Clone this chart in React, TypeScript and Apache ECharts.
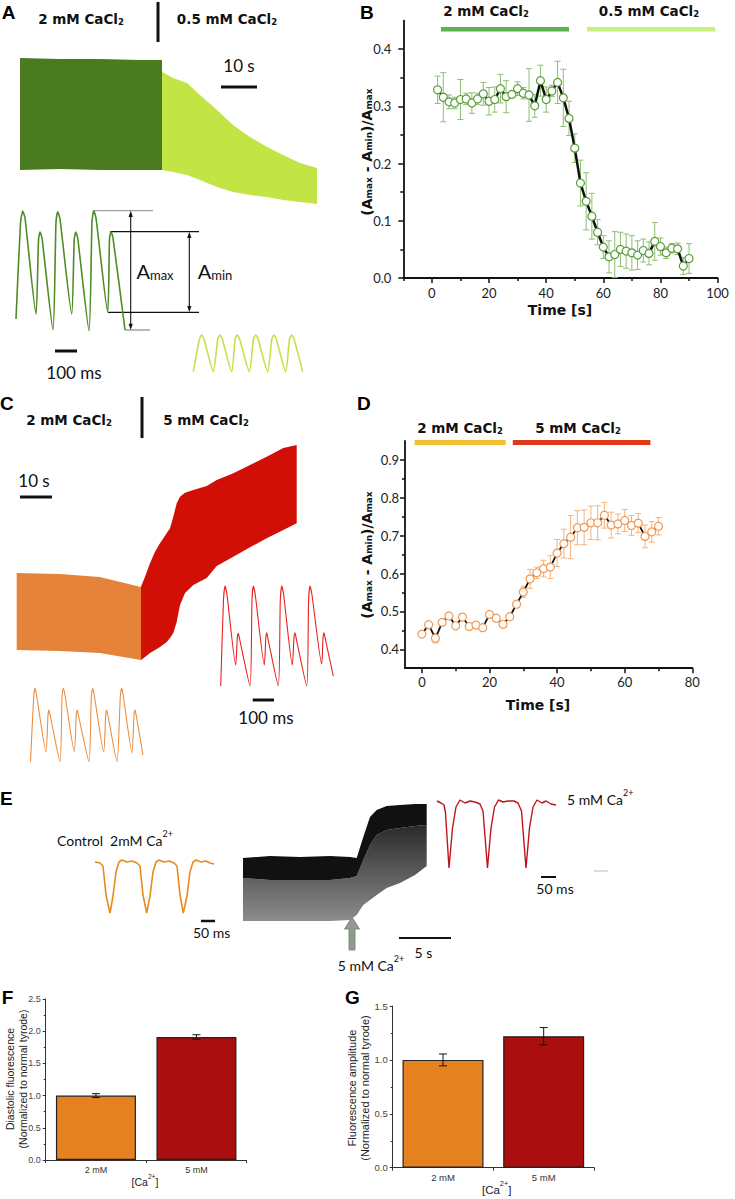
import React, { useEffect, useRef } from "react";
import * as echarts from "echarts";

// ---------------- Panel B : 2 mM -> 0.5 mM CaCl2 ----------------
const bTime = [2, 4, 6, 8, 10, 12, 14, 16, 18, 20, 22, 24, 26, 28, 30, 32, 34, 36, 38, 40, 42, 44, 46, 48, 50, 52, 54, 56, 58, 60, 62, 64, 66, 68, 70, 72, 74, 76, 78, 80, 82, 84, 86, 88, 90];
const bRatio = [0.329, 0.316, 0.308, 0.306, 0.312, 0.313, 0.306, 0.313, 0.322, 0.309, 0.312, 0.331, 0.317, 0.321, 0.331, 0.323, 0.32, 0.301, 0.345, 0.312, 0.327, 0.342, 0.315, 0.279, 0.227, 0.166, 0.134, 0.108, 0.08, 0.054, 0.037, 0.041, 0.05, 0.047, 0.044, 0.04, 0.048, 0.043, 0.064, 0.055, 0.044, 0.052, 0.051, 0.021, 0.034];
const bErr = [0.024, 0.043, 0.012, 0.01, 0.035, 0.01, 0.018, 0.01, 0.02, 0.024, 0.022, 0.025, 0.028, 0.005, 0.012, 0.01, 0.046, 0.02, 0.027, 0.022, 0.01, 0.037, 0.05, 0.03, 0.025, 0.04, 0.05, 0.04, 0.022, 0.02, 0.028, 0.04, 0.03, 0.03, 0.03, 0.025, 0.02, 0.02, 0.033, 0.015, 0.01, 0.008, 0.01, 0.015, 0.026];
const bXTicks = [0, 20, 40, 60, 80, 100];
const bXMinor = [-10, 10, 30, 50, 70, 90];
const bYTicks = [0, 0.1, 0.2, 0.3, 0.4];
const bYMinor = [0.05, 0.15, 0.25, 0.35];
const bBar2mM = [3.2, 48];
const bBar05mM = [54.3, 99.2];
const bBarLevel = 0.435;

// ---------------- Panel D : 2 mM -> 5 mM CaCl2 ----------------
const dTime = [0, 2, 4, 6, 8, 10, 12, 14, 16, 18, 20, 22, 24, 26, 28, 30, 32, 34, 36, 38, 40, 42, 44, 46, 48, 50, 52, 54, 56, 58, 60, 62, 64, 66, 68, 70];
const dRatio = [0.44, 0.465, 0.429, 0.471, 0.488, 0.462, 0.485, 0.46, 0.464, 0.457, 0.492, 0.482, 0.466, 0.486, 0.519, 0.551, 0.586, 0.602, 0.613, 0.617, 0.654, 0.679, 0.696, 0.721, 0.722, 0.734, 0.734, 0.754, 0.728, 0.731, 0.74, 0.727, 0.733, 0.698, 0.71, 0.725];
const dErr = [0.006, 0.006, 0.012, 0.006, 0.005, 0.005, 0.005, 0.006, 0.006, 0.005, 0.006, 0.006, 0.005, 0.006, 0.008, 0.014, 0.025, 0.015, 0.022, 0.03, 0.036, 0.038, 0.057, 0.045, 0.046, 0.044, 0.045, 0.034, 0.034, 0.026, 0.029, 0.026, 0.025, 0.03, 0.027, 0.023];
const dXTicks = [0, 20, 40, 60, 80];
const dXMinor = [10, 30, 50, 70];
const dYTicks = [0.4, 0.5, 0.6, 0.7, 0.8, 0.9];
const dYMinor = [0.45, 0.55, 0.65, 0.75, 0.85];
const dBar2mM = [-2.2, 24.8];
const dBar5mM = [26.9, 67.6];
const dBarLevel = 0.946;

// ---------------- Panels F & G ----------------
const caCats = ["2 mM", "5 mM"];
const fValues = [1.0, 1.91];
const fErr = [0.03, 0.035];
const gValues = [1.0, 1.22];
const gErr = [0.055, 0.08];

// ---------------- Raw traces (local units) ----------------
const aBandDark = [[0, 152, 40], [40, 151, 41], [80, 151, 40], [120, 150, 40], [142, 150, 40]];
const aBandLight = [[142, 138.3, 40], [153, 132, 38], [167, 127, 35], [180, 115, 30], [197, 100, 23], [213, 85, 18], [230, 73, 15], [247, 63, 13], [263, 55, 10], [280, 47, 8], [297, 42, 6]];
const aTrace2mM = [[1, 16], [5.5, 112], [7.7, 124], [10, 117], [21, 21], [23.5, 95], [25, 103], [27, 97], [38, 5], [41, 113], [42.7, 123.3], [45, 116], [56.7, 21], [59.2, 95], [60.7, 103], [62.7, 97], [74, 4.3], [77, 113], [78.7, 124.3], [81, 117], [92.7, 23], [94.5, 96], [96, 103.3], [98, 97], [110, 5]];
const aTrace05mM = [[3.3, 3.3], [9.5, 36], [11.7, 40], [14, 36], [23.3, 3.3], [27.8, 36], [30, 40], [32.3, 36], [41.7, 3.3], [45.1, 36], [47.3, 40], [49.6, 36], [59.3, 3.3], [63.5, 36], [65.7, 40], [68, 36], [77.7, 3.3], [81.8, 36], [84, 40], [86.3, 36], [95.7, 3.3], [99.5, 36], [101.7, 40], [104, 36], [112.7, 3.3]];
const cBand2mM = [[0, 92, 15], [43, 91, 14], [83, 88, 12], [124.3, 78, 5]];
const cBand5mM = [[124.3, 78.3, 5], [128.3, 88.3, 8], [133.3, 101.7, 12], [138.3, 113.3, 15], [143.3, 121.7, 18], [150, 131.7, 23], [153.3, 136.7, 27], [156.6, 148.3, 32], [160, 161.7, 43], [163.3, 168.3, 60], [168.3, 172.3, 72], [176.6, 175, 80], [190, 179, 87], [200, 185, 99], [216.6, 191.7, 108.3], [233.3, 200, 117.7], [250, 208.3, 126.7], [266.6, 217, 135], [280, 220, 141.7]];
const cTrace5mM = [[2.7, 4], [5.5, 90], [7, 104], [9, 95], [17.7, 25], [19.3, 52], [20.3, 56.7], [21.8, 50], [32, 4], [34, 90], [35.3, 104], [37.3, 95], [46.3, 25], [47.8, 52], [48.7, 57.3], [50.2, 50], [60.3, 4], [62.3, 90], [63.7, 104], [65.7, 95], [74.3, 25], [76, 52], [77, 57.3], [78.5, 50], [88.7, 4], [90.6, 90], [92, 104], [94, 95], [103.7, 26], [105, 52], [106, 57.3], [107.5, 50], [115.3, 14]];
const cTrace2mM = [[5.5, 3.3], [8.7, 68], [10, 76.7], [11.5, 70], [21, 13.3], [23, 50], [24, 55], [25.5, 48], [35, 3.3], [37, 68], [38.3, 76.7], [40, 70], [49.3, 13.3], [51.3, 50], [52.3, 55], [53.8, 48], [64, 3.3], [66.3, 68], [67.7, 76.7], [69.2, 70], [78.7, 13.3], [80.7, 50], [81.7, 55], [83.2, 48], [92, 3.3], [95.3, 68], [96.7, 76.7], [98.2, 70], [107, 12], [109, 50], [110, 55], [111.5, 48], [118, 10]];
const eBandDark = [[3, 67, 47], [30, 69, 45], [60, 68, 45], [90, 69, 45], [110, 68, 47], [116.7, 67, 49], [123.3, 88, 65], [130, 108, 80], [136.7, 115, 90], [146.7, 119, 95], [160, 120, 97], [175, 121, 99], [186.7, 121, 100]];
const eBandGray = [[3, 47, 4], [30, 45, 4], [60, 45, 4], [90, 45, 4], [110, 47, 5], [116.7, 49, 10], [123.3, 65, 20], [130, 80, 25], [136.7, 90, 30], [146.7, 95, 37], [160, 97, 42], [175, 99, 50], [186.7, 100, 59]];
const eTraceControl = [[5, 55], [10, 54], [13, 51], [16, 22], [20, 4], [23, 21], [26, 45], [29, 55], [32, 57], [37, 55], [42, 56], [47, 54], [50, 51], [53, 22], [56.7, 4], [60, 21], [63, 45], [66, 55], [69, 57], [74, 55], [79, 56], [84, 54], [87, 51], [90, 22], [93.3, 4], [97, 21], [100, 45], [103, 55], [106, 57], [111, 55], [116, 56], [120, 54], [124, 53]];
const eTrace5mM = [[5, 72], [9, 70], [12, 68], [13.5, 60], [17, 5], [20.5, 45], [24, 66], [28, 73], [33, 70], [38, 72], [43, 71], [48, 69], [51, 62], [55.5, 5], [59, 45], [62.5, 66], [66.5, 73], [71, 71], [76, 72], [82, 72], [86, 70], [89.5, 62], [94, 5], [97.5, 45], [101, 66], [105, 73], [110, 70], [114, 72], [119, 69], [124, 68]];

const FG = "Lato, 'Noto Sans', sans-serif";
const FB = "'DejaVu Sans', sans-serif";
const FA = "'Liberation Sans', Arial, sans-serif";

const traceGrids = [
  { left: 20, top: 55, width: 297, height: 155 }, // 6 band A
  { left: 15, top: 205, width: 115, height: 130 }, // 7 A trace 2mM
  { left: 190, top: 330, width: 115, height: 45 }, // 8 A trace 0.5mM
  { left: 16.7, top: 440, width: 280, height: 225 }, // 9 band C
  { left: 218, top: 580, width: 118, height: 110 }, // 10 C trace 5mM
  { left: 25, top: 680, width: 125, height: 85 }, // 11 C trace 2mM
  { left: 240, top: 795, width: 190, height: 130 }, // 12 band E
  { left: 90, top: 855, width: 130, height: 62 }, // 13 E control
  { left: 432, top: 795, width: 128, height: 78 }, // 14 E 5mM
];

function errBars(ax: number, xs: any[], ys: number[], es: number[], color: string, cap: number, lw: number, z: number) {
  return {
    type: "custom",
    xAxisIndex: ax,
    yAxisIndex: ax,
    silent: true,
    z,
    clip: false,
    data: ys.map((y, i) => [xs[i], y - es[i], y + es[i]]),
    encode: { x: 0, y: [1, 2] },
    renderItem: (params: any, api: any) => {
      const x = api.value(0);
      const lo = api.coord([x, api.value(1)]);
      const hi = api.coord([x, api.value(2)]);
      const st = { stroke: color, lineWidth: lw };
      return {
        type: "group",
        children: [
          { type: "line", shape: { x1: lo[0], y1: lo[1], x2: hi[0], y2: hi[1] }, style: st },
          { type: "line", shape: { x1: lo[0] - cap, y1: lo[1], x2: lo[0] + cap, y2: lo[1] }, style: st },
          { type: "line", shape: { x1: hi[0] - cap, y1: hi[1], x2: hi[0] + cap, y2: hi[1] }, style: st },
        ],
      };
    },
  };
}

function band(ax: number, pts: number[][], fill: any) {
  return {
    type: "custom",
    xAxisIndex: ax,
    yAxisIndex: ax,
    silent: true,
    clip: false,
    data: pts,
    encode: { x: 0, y: [1, 2] },
    renderItem: (params: any, api: any) => {
      if (params.dataIndex !== 0) return null;
      const up = pts.map((p) => api.coord([p[0], p[1]]));
      const dn = pts.slice().reverse().map((p) => api.coord([p[0], p[2]]));
      return { type: "polygon", shape: { points: up.concat(dn) }, style: { fill } };
    },
  };
}

function trace(ax: number, pts: number[][], color: string, width: number, smooth: number) {
  return {
    type: "line",
    xAxisIndex: ax,
    yAxisIndex: ax,
    data: pts,
    symbol: "none",
    showSymbol: false,
    clip: false,
    silent: true,
    smooth,
    lineStyle: { color, width },
  };
}

function levelBar(ax: number, range: number[], level: number, color: string, width: number) {
  return {
    type: "line",
    xAxisIndex: ax,
    yAxisIndex: ax,
    data: [[range[0], level], [range[1], level]],
    symbol: "none",
    clip: false,
    silent: true,
    z: 5,
    lineStyle: { color, width, cap: "butt" },
  };
}

const txt = (x: number, y: number, text: string, size: number, extra: any = {}) => ({
  type: "text", x, y, silent: true,
  style: { text, fontSize: size, fontFamily: FG, fill: "#111", align: "center", verticalAlign: "middle", ...extra },
});
const hl = (x1: number, x2: number, y: number, w: number, c = "#111") => ({
  type: "line", silent: true, shape: { x1, y1: y, x2, y2: y }, style: { stroke: c, lineWidth: w },
});
const vl = (x: number, y1: number, y2: number, w: number, c = "#111") => ({
  type: "line", silent: true, shape: { x1: x, y1, x2: x, y2 }, style: { stroke: c, lineWidth: w },
});
const letter = (x: number, y: number, t: string) => txt(x, y, t, 19, { fontFamily: FA, fontWeight: "bold", align: "left", fill: "#000" });

const cacl = (x: number, y: number, conc: string) => ({
  type: "text", x, y, silent: true,
  style: {
    text: `{b|${conc} mM CaCl}{s|2}`, align: "center", verticalAlign: "middle",
    rich: {
      b: { fontSize: 13.5, fontWeight: "bold", fontFamily: FB, fill: "#111", lineHeight: 16, verticalAlign: "bottom" },
      s: { fontSize: 8.5, fontWeight: "bold", fontFamily: FB, fill: "#111", lineHeight: 9, verticalAlign: "bottom" },
    },
  },
});

const ratioName = (x: number, y: number) => ({
  type: "text", x, y, rotation: Math.PI / 2, silent: true,
  style: {
    text: "{b|(A}{s|max}{b| - A}{s|min}{b|)/A}{s|max}", align: "center", verticalAlign: "middle",
    rich: {
      b: { fontSize: 14, fontWeight: "bold", fontFamily: FB, fill: "#111", lineHeight: 17, verticalAlign: "bottom" },
      s: { fontSize: 9, fontWeight: "bold", fontFamily: FB, fill: "#111", lineHeight: 9, verticalAlign: "bottom" },
    },
  },
});

const caText = (x: number, y: number, pre: string, post: string, size: number, align: string, font: string, fill = "#111") => ({
  type: "text", x, y, silent: true,
  style: {
    text: `{t|${pre}Ca}{p|2+}` + (post ? `{t|${post}}` : ""), align, verticalAlign: "middle",
    rich: {
      t: { fontSize: size, fontFamily: font, fill, lineHeight: size + 4, verticalAlign: "bottom" },
      p: { fontSize: size * 0.64, fontFamily: font, fill, lineHeight: size * 0.6, verticalAlign: "top" },
    },
  },
});

const ampText = (x: number, y: number, sub: string) => ({
  type: "text", x, y, silent: true,
  style: {
    text: `{a|A}{s|${sub}}`, align: "center", verticalAlign: "middle",
    rich: {
      a: { fontSize: 20, fontFamily: FG, fill: "#111", lineHeight: 22, verticalAlign: "bottom" },
      s: { fontSize: 13, fontFamily: FG, fill: "#111", lineHeight: 12, verticalAlign: "bottom" },
    },
  },
});

const rotText = (x: number, y: number, text: string, size: number) => ({
  type: "text", x, y, rotation: Math.PI / 2, silent: true,
  style: { text, fontSize: size, fontFamily: FA, fill: "#222", align: "center", verticalAlign: "middle" },
});

const tri = (pts: number[][], fill = "#111") => ({ type: "polygon", silent: true, shape: { points: pts }, style: { fill } });

function buildOption() {
  const axLine = { show: true, onZero: false, lineStyle: { color: "#111", width: 1.8 } };
  const noLine = { show: false, onZero: false };
  const tickStyle = { color: "#111", width: 1.5 };
  const lbl = { fontSize: 13, fontFamily: FG, color: "#222" };

  const grids: any[] = [
    { left: 403.3, top: 20.6, width: 314.3, height: 257.4 }, // B
    { left: 405, top: 441, width: 287.3, height: 227.2 }, // D
    { left: 45.7, top: 999, width: 201, height: 161 }, // F
    { left: 392.7, top: 1006, width: 201.3, height: 161.7 }, // G
    ...traceGrids,
  ].map((g) => ({ ...g, containLabel: false, outerBoundsMode: "none" }));

  const xAxes: any[] = [
    { gridIndex: 0, type: "value", min: -10, max: 100, position: "bottom", axisLine: axLine, splitLine: { show: false },
      axisTick: { show: true, length: 5, lineStyle: tickStyle, customValues: bXTicks },
      axisLabel: { ...lbl, margin: 8, customValues: bXTicks } },
    { gridIndex: 0, type: "value", min: -10, max: 100, position: "bottom", axisLine: noLine, splitLine: { show: false },
      axisTick: { show: true, length: 3, lineStyle: tickStyle, customValues: bXMinor }, axisLabel: { show: false } },
    { gridIndex: 1, type: "value", min: -5, max: 80, position: "bottom", axisLine: axLine, splitLine: { show: false },
      axisTick: { show: true, length: 5, lineStyle: tickStyle, customValues: dXTicks },
      axisLabel: { ...lbl, margin: 7, customValues: dXTicks } },
    { gridIndex: 1, type: "value", min: -5, max: 80, position: "bottom", axisLine: noLine, splitLine: { show: false },
      axisTick: { show: true, length: 3, lineStyle: tickStyle, customValues: dXMinor }, axisLabel: { show: false } },
    { gridIndex: 2, type: "category", data: caCats, axisLine: { onZero: false, lineStyle: { color: "#333", width: 1 } },
      axisTick: { show: true, length: 3, lineStyle: { color: "#333" } },
      axisLabel: { fontSize: 9, fontFamily: FA, color: "#333", margin: 5 } },
    { gridIndex: 3, type: "category", data: caCats, axisLine: { onZero: false, lineStyle: { color: "#333", width: 1 } },
      axisTick: { show: true, length: 3, lineStyle: { color: "#333" } },
      axisLabel: { fontSize: 9.5, fontFamily: FA, color: "#333", margin: 5 } },
  ];
  const yAxes: any[] = [
    { gridIndex: 0, type: "value", min: 0, max: 0.45, position: "left", axisLine: axLine, splitLine: { show: false },
      axisTick: { show: true, length: 5, lineStyle: tickStyle, customValues: bYTicks },
      axisLabel: { ...lbl, margin: 12, customValues: bYTicks, formatter: (v: number) => v.toFixed(1) } },
    { gridIndex: 0, type: "value", min: 0, max: 0.45, position: "left", axisLine: noLine, splitLine: { show: false },
      axisTick: { show: true, length: 3, lineStyle: tickStyle, customValues: bYMinor }, axisLabel: { show: false } },
    { gridIndex: 1, type: "value", min: 0.35, max: 0.95, position: "left", axisLine: axLine, splitLine: { show: false },
      axisTick: { show: true, length: 5, lineStyle: tickStyle, customValues: dYTicks },
      axisLabel: { ...lbl, margin: 6, customValues: dYTicks, formatter: (v: number) => v.toFixed(1) } },
    { gridIndex: 1, type: "value", min: 0.35, max: 0.95, position: "left", axisLine: noLine, splitLine: { show: false },
      axisTick: { show: true, length: 3, lineStyle: tickStyle, customValues: dYMinor }, axisLabel: { show: false } },
    { gridIndex: 2, type: "value", min: 0, max: 2.5, interval: 0.5, axisLine: { show: true, onZero: false, lineStyle: { color: "#333", width: 1 } },
      splitLine: { show: false }, axisTick: { show: true, length: 3, lineStyle: { color: "#333" } },
      minorTick: { show: true, splitNumber: 2, length: 2, lineStyle: { color: "#333" } },
      axisLabel: { fontSize: 9, fontFamily: FA, color: "#444", margin: 5, formatter: (v: number) => v.toFixed(1) } },
    { gridIndex: 3, type: "value", min: 0, max: 1.5, interval: 0.5, axisLine: { show: true, onZero: false, lineStyle: { color: "#333", width: 1 } },
      splitLine: { show: false }, axisTick: { show: true, length: 3, lineStyle: { color: "#333" } },
      minorTick: { show: true, splitNumber: 2, length: 2, lineStyle: { color: "#333" } },
      axisLabel: { fontSize: 9.5, fontFamily: FA, color: "#444", margin: 5, formatter: (v: number) => v.toFixed(1) } },
  ];
  traceGrids.forEach((g, k) => {
    xAxes.push({ gridIndex: 4 + k, type: "value", min: 0, max: g.width, show: false });
    yAxes.push({ gridIndex: 4 + k, type: "value", min: 0, max: g.height, show: false });
  });

  const series: any[] = [
    // B
    errBars(0, bTime, bRatio, bErr, "#8dbf72", 3, 1, 1),
    { type: "line", xAxisIndex: 0, yAxisIndex: 0, z: 3, data: bTime.map((t, i) => [t, bRatio[i]]),
      symbol: "circle", symbolSize: 8, lineStyle: { color: "#111", width: 2.5 },
      itemStyle: { color: "#fff", borderColor: "#5a9c3a", borderWidth: 1.2 } },
    levelBar(0, bBar2mM, bBarLevel, "#5cb04e", 4.5),
    levelBar(0, bBar05mM, bBarLevel, "#c8f27e", 4.5),
    // D
    errBars(2, dTime, dRatio, dErr, "#f5b27a", 3, 1, 1),
    { type: "line", xAxisIndex: 2, yAxisIndex: 2, z: 3, data: dTime.map((t, i) => [t, dRatio[i]]),
      symbol: "circle", symbolSize: 8, lineStyle: { color: "#111", width: 1.8 },
      itemStyle: { color: "#fff", borderColor: "#ef9a55", borderWidth: 1.2 } },
    levelBar(2, dBar2mM, dBarLevel, "#f1c132", 5),
    levelBar(2, dBar5mM, dBarLevel, "#e0391a", 5),
    // F
    { type: "bar", xAxisIndex: 4, yAxisIndex: 4, z: 2, barWidth: 80,
      data: fValues.map((v, i) => ({ value: v, itemStyle: { color: i === 0 ? "#e5821f" : "#ab0e0e" } })),
      itemStyle: { borderColor: "#222", borderWidth: 1.2 } },
    errBars(4, [0, 1], fValues, fErr, "#111", 4, 1, 4),
    // G
    { type: "bar", xAxisIndex: 5, yAxisIndex: 5, z: 2, barWidth: 81,
      data: gValues.map((v, i) => ({ value: v, itemStyle: { color: i === 0 ? "#e5821f" : "#ab0e0e" } })),
      itemStyle: { borderColor: "#222", borderWidth: 1.2 } },
    errBars(5, [0, 1], gValues, gErr, "#111", 4, 1, 4),
    // traces
    band(6, aBandDark, "#4a7b21"),
    band(6, aBandLight, "#c3e445"),
    trace(7, aTrace2mM, "#4e8c25", 1.6, 0.2),
    trace(8, aTrace05mM, "#c3e24a", 1.6, 0.2),
    band(9, cBand2mM, "#e5833b"),
    band(9, cBand5mM, "#d20f06"),
    trace(10, cTrace5mM, "#e8201c", 1.1, 0.2),
    trace(11, cTrace2mM, "#ec8d3f", 1.1, 0.2),
    band(12, eBandGray, { type: "linear", x: 0, y: 0, x2: 0, y2: 1, colorStops: [{ offset: 0, color: "#2a2a2a" }, { offset: 1, color: "#8c8c8c" }] }),
    band(12, eBandDark, "#111"),
    trace(13, eTraceControl, "#ea8a1c", 1.6, 0),
    trace(14, eTrace5mM, "#c0141c", 1.4, 0),
  ];

  const graphics: any[] = [
    letter(1.7, 12, "A"), letter(360, 12, "B"), letter(0, 403, "C"), letter(357, 403, "D"),
    letter(0, 798, "E"), letter(1.7, 997, "F"), letter(345, 997, "G"),
    // A
    cacl(81, 18, "2"), cacl(227, 18, "0.5"), vl(158, 2, 42, 3),
    txt(239, 65, "10 s", 17), hl(221, 257, 87, 3),
    hl(94, 153, 210.7, 1, "#888"), hl(110, 199, 231.7, 1.2), hl(108, 199, 312.3, 1.2), hl(125, 150, 330, 1.2, "#888"),
    vl(130.7, 214, 327, 1.1), tri([[128.6, 217], [130.7, 210.7], [132.8, 217]]), tri([[128.6, 323.7], [130.7, 330], [132.8, 323.7]]),
    vl(189.3, 235, 309, 1.1), tri([[187.2, 238], [189.3, 231.7], [191.4, 238]]), tri([[187.2, 306], [189.3, 312.3], [191.4, 306]]),
    ampText(155, 270, "max"), ampText(215, 270, "min"),
    hl(55, 77, 351, 3), txt(74, 372, "100 ms", 17),
    // B
    cacl(486, 10, "2"), cacl(649, 10, "0.5"), ratioName(365, 152),
    txt(560, 310, "Time [s]", 14, { fontFamily: FB, fontWeight: "bold" }),
    // C
    cacl(69, 419, "2"), cacl(206, 419, "5"), vl(142, 397, 438, 3),
    txt(34, 480, "10 s", 17), hl(20, 52, 497, 3),
    hl(252.7, 274, 700, 3), txt(266, 717, "100 ms", 17),
    // D
    cacl(460, 427, "2"), cacl(578, 427, "5"), ratioName(365, 555),
    txt(538, 705, "Time [s]", 14, { fontFamily: FB, fontWeight: "bold" }),
    // E
    caText(57, 838, "Control  2mM ", "", 14, "left", FG),
    hl(201, 215, 921, 2.5), txt(211.7, 932, "50 ms", 14),
    { type: "polygon", silent: true, shape: { points: [[352, 917], [359.5, 929], [355, 929], [355, 950], [349, 950], [349, 929], [344.5, 929]] },
      style: { fill: "#8f9b8d", stroke: "#6f7b6d", lineWidth: 0.8 } },
    caText(371, 963, "5 mM ", "", 14, "center", FG),
    hl(399, 451, 938, 2), txt(423.5, 952, "5 s", 14),
    caText(567, 797, "5 mM ", "", 14, "left", FG),
    hl(541, 556, 877, 2), txt(555, 888, "50 ms", 14),
    hl(594, 608, 871, 1, "#bbb"),
    // F
    rotText(10, 1079, "Diastolic fluorescence", 10.5), rotText(22.7, 1079, "(Normalized to normal tyrode)", 10.5),
    caText(145, 1180, "[", "]", 10.5, "center", FA, "#222"),
    // G
    rotText(351.7, 1088, "Fluorescence amplitude", 11), rotText(365, 1088, "(Normalized to normal tyrode)", 11),
    caText(496.7, 1188, "[", "]", 11.5, "center", FA, "#222"),
  ];

  return {
    animation: false,
    backgroundColor: "#fff",
    grid: grids,
    xAxis: xAxes,
    yAxis: yAxes,
    series,
    graphic: { elements: graphics },
  };
}

export default function App() {
  const ref = useRef<HTMLDivElement>(null);
  useEffect(() => {
    const chart = echarts.init(ref.current as HTMLDivElement, null, { renderer: "svg", width: 735, height: 1199 });
    chart.setOption(buildOption() as any);
    return () => chart.dispose();
  }, []);
  return <div ref={ref} style={{ position: "absolute", left: 0, top: 0, width: 735, height: 1199, background: "#fff" }} />;
}
